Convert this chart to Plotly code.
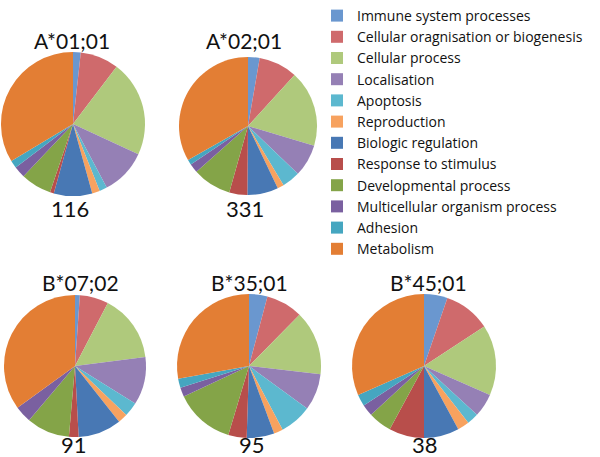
import plotly.graph_objects as go

W, H = 600, 457

categories = [
    "Immune system processes",
    "Cellular oragnisation or biogenesis",
    "Cellular process",
    "Localisation",
    "Apoptosis",
    "Reproduction",
    "Biologic regulation",
    "Response to stimulus",
    "Developmental process",
    "Multicellular organism process",
    "Adhesion",
    "Metabolism",
]

colors = [
    "#6a97cf", "#cf6a6c", "#afc97c", "#9580b5", "#5cb8cf", "#f7a25f",
    "#4878b4", "#b84e4b", "#84a448", "#7a60a0", "#45a6c0", "#e37e34",
]

alleles = ["A*01;01", "A*02;01", "B*07;02", "B*35;01", "B*45;01"]
totals = ["116", "331", "91", "95", "38"]

a0101 = [2, 10, 25, 12, 2, 2, 10, 1, 8, 3, 2, 39]
a0201 = [9, 30, 59, 25, 14, 5, 24, 14, 30, 7, 4, 110]
b0702 = [1, 6, 14, 10, 3, 2, 9, 2, 9, 3.5, 0, 32]
b3501 = [4, 8, 14, 8, 7, 2, 6, 4, 13, 2, 2, 27]
b4501 = [2, 4, 6, 2, 1, 1, 3, 3, 2, 1, 1, 12]
series = [a0101, a0201, b0702, b3501, b4501]

# geometry in reference-page pixels: (cx, cy, r), title pos, total pos
pies = [(73, 124, 72), (248, 126, 69), (75, 366, 71), (249, 366, 72), (424, 366, 72)]
title_pos = [(72, 40), (244, 40), (80, 282), (249, 282), (428, 282)]
total_pos = [(70, 208), (245, 208), (74, 444), (252, 444), (425, 444)]


def px(x):
    return min(max(x / W, 0.0), 1.0)


def py(y):
    return 1 - y / H


FONT = "'Century Gothic', Lato, 'Open Sans', sans-serif"
LFONT = "'Century Gothic', 'Open Sans', sans-serif"

fig = go.Figure()
for i, (vals, (cx, cy, r)) in enumerate(zip(series, pies)):
    fig.add_trace(go.Pie(
        labels=categories,
        values=vals,
        sort=False,
        direction="clockwise",
        rotation=0,
        textinfo="none",
        hoverinfo="label+value+percent",
        marker=dict(colors=colors, line=dict(width=0)),
        domain=dict(x=[px(cx - r), px(cx + r)], y=[py(cy + r), py(cy - r)]),
        showlegend=(i == 0),
        name=alleles[i],
    ))

annotations = []
for t, (x, y) in zip(alleles, title_pos):
    annotations.append(dict(text=t, x=px(x), y=py(y), xref="paper", yref="paper",
                            xanchor="center", yanchor="middle", showarrow=False,
                            font=dict(size=21, color="#111111", family=FONT)))
for t, (x, y) in zip(totals, total_pos):
    annotations.append(dict(text=t, x=px(x), y=py(y), xref="paper", yref="paper",
                            xanchor="center", yanchor="middle", showarrow=False,
                            font=dict(size=22, color="#111111", family=FONT)))

fig.update_layout(
    width=W, height=H,
    margin=dict(l=0, r=0, t=0, b=0),
    paper_bgcolor="white",
    plot_bgcolor="white",
    annotations=annotations,
    legend=dict(
        x=px(317), y=1.0, xanchor="left", yanchor="top",
        font=dict(size=14, color="#111111", family=LFONT),
        bgcolor="rgba(0,0,0,0)",
        traceorder="normal",
    ),
)

fig.write_html(
    "out.html",
    config={"displayModeBar": False},
    post_script="document.body.style.margin='0';document.body.style.padding='0';",
)
